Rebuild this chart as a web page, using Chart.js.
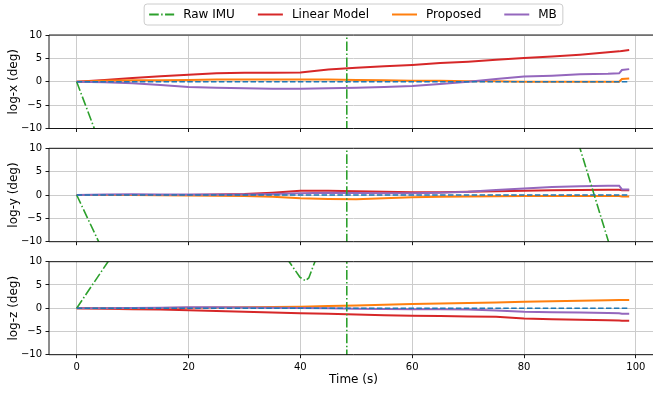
<!DOCTYPE html>
<html>
<head>
<meta charset="utf-8">
<script src="https://cdn.jsdelivr.net/npm/chart.js@4"></script>
<style>
  html, body { margin: 0; padding: 0; background: #fff; }
  #fig { position: relative; width: 653px; height: 394px; overflow: hidden; }
  #fig canvas { position: absolute; left: 0; }
</style>
</head>
<body>
<div id="fig">
  <canvas id="cx" width="670" height="140" style="top:0px"></canvas>
  <canvas id="cy" width="670" height="116" style="top:138px"></canvas>
  <canvas id="cz" width="670" height="144" style="top:250px"></canvas>
</div>
<script>
// time stamps (s) for the estimator curves
let times = [0, 5, 10, 15, 20, 25, 30, 35, 40, 45, 50, 55, 60, 65, 70, 75, 80, 85, 90, 95, 97, 97.5, 98.8];

// log-x (deg)
let linX  = [0, 0.4, 0.8, 1.2, 1.5, 1.8, 1.9, 1.9, 2.0, 2.6, 3.0, 3.3, 3.6, 4.0, 4.3, 4.7, 5.1, 5.4, 5.8, 6.3, 6.5, 6.6, 6.8];
let propX = [0, 0.2, 0.3, 0.3, 0.4, 0.5, 0.5, 0.5, 0.5, 0.5, 0.4, 0.3, 0.2, 0.2, 0.1, 0.1, 0.0, 0.0, 0.0, 0.0, 0.0, 0.6, 0.7];
let mbX   = [0, -0.1, -0.3, -0.7, -1.1, -1.3, -1.4, -1.5, -1.5, -1.4, -1.3, -1.1, -0.9, -0.5, 0.0, 0.6, 1.1, 1.3, 1.6, 1.7, 1.8, 2.5, 2.7];

// log-y (deg)
let linY  = [0, 0, 0, 0, 0, 0.1, 0.2, 0.5, 0.9, 0.9, 0.8, 0.7, 0.6, 0.6, 0.7, 0.8, 0.9, 1.0, 1.05, 1.1, 1.1, 1.0, 1.0];
let propY = [0, 0, 0, -0.05, -0.1, -0.15, -0.2, -0.4, -0.7, -0.85, -0.9, -0.7, -0.5, -0.4, -0.3, -0.25, -0.2, -0.2, -0.2, -0.2, -0.2, -0.3, -0.3];
let mbY   = [0, 0.1, 0.15, 0.1, 0.1, 0.1, 0.1, 0.2, 0.35, 0.5, 0.45, 0.4, 0.35, 0.5, 0.7, 1.05, 1.4, 1.7, 1.9, 2.0, 2.0, 1.2, 1.2];

// log-z (deg)
let linZ  = [0, -0.1, -0.2, -0.3, -0.45, -0.6, -0.75, -0.9, -1.1, -1.2, -1.35, -1.5, -1.6, -1.7, -1.8, -1.85, -2.2, -2.4, -2.5, -2.6, -2.65, -2.7, -2.7];
let propZ = [0, 0, 0, 0.05, 0.1, 0.15, 0.2, 0.25, 0.3, 0.45, 0.6, 0.75, 0.9, 1.0, 1.1, 1.2, 1.4, 1.5, 1.6, 1.7, 1.75, 1.75, 1.75];
let mbZ   = [0, 0, 0.05, 0.1, 0.2, 0.2, 0.15, 0.1, 0.05, 0.0, -0.1, -0.15, -0.2, -0.25, -0.3, -0.5, -0.75, -0.85, -0.95, -1.05, -1.1, -1.2, -1.2];

// raw IMU integration (mostly off the visible range, wraps at ~48 s)
let rawTX = [0, 3.15, 48.3, 48.3, 98.8];
let rawX  = [0, -10, -153, 207, 47];
let rawTY = [0, 3.93, 48.3, 48.3, 90.0, 95.1, 98.8];
let rawY  = [0, -10, -123, 172, 10, -10, -24];
let rawTZ = [0, 5.6, 8, 20, 30, 35, 38.0, 39.9, 40.9, 41.5, 42.6, 45, 48.3, 48.3, 98.8];
let rawZ  = [0, 10, 14, 30, 25, 15, 10, 6.7, 5.9, 6.5, 10, 16, 25, -180, -150];

let xTicks = [0, 20, 40, 60, 80, 100];
let yTicks = [-10, -5, 0, 5, 10];

let legendNames = ["Raw IMU", "Linear Model", "Proposed", "MB"];
let colors = { raw: "#2ca02c", lin: "#d62728", prop: "#ff7f0e", mb: "#9467bd", gt: "#1f77b4" };

Chart.defaults.font.family = "'DejaVu Sans', sans-serif";
Chart.defaults.color = "#000";

function pts(ts, vs) {
    return ts.map((t, i) => ({ x: t, y: vs[i] }));
}

function minusFmt(v) {
    return v < 0 ? "\u2212" + Math.abs(v) : String(v);
}

// grid only on the listed ticks
const gridColor = ctx => "#cccccc";
const tickMarkColor = ctx => "#000";

// spines: left, top, bottom (right one falls outside the figure)
const framePlugin = {
    id: "frame",
    afterDraw(chart) {
        const a = chart.chartArea, ctx = chart.ctx;
        ctx.save();
        ctx.strokeStyle = "#000";
        ctx.lineWidth = 0.9;
        ctx.beginPath();
        ctx.moveTo(a.right, a.top);
        ctx.lineTo(a.left, a.top);
        ctx.lineTo(a.left, a.bottom);
        ctx.lineTo(a.right, a.bottom);
        ctx.stroke();
        ctx.restore();
    }
};

// boxed legend above the first panel
const legendPlugin = {
    id: "topLegend",
    afterDraw(chart) {
        const ctx = chart.ctx;
        const styles = [
            { c: colors.raw, dash: [9.6, 2.4, 1.5, 2.4] },
            { c: colors.lin, dash: [] },
            { c: colors.prop, dash: [] },
            { c: colors.mb, dash: [] }
        ];
        const handle = 25, gapText = 9, gapCol = 23, cy = 14.5;
        ctx.save();
        ctx.font = "12px 'DejaVu Sans'";
        let widths = legendNames.map(n => ctx.measureText(n).width);
        let total = widths.reduce((s, w) => s + handle + gapText + w, 0) + gapCol * (legendNames.length - 1);
        let x = 353 - total / 2;
        let bx = x - 5, bw = total + 11;
        ctx.fillStyle = "rgba(255,255,255,0.8)";
        ctx.strokeStyle = "#cccccc";
        ctx.lineWidth = 1;
        ctx.beginPath();
        ctx.roundRect(bx, 4, bw, 21, 3);
        ctx.fill();
        ctx.stroke();
        legendNames.forEach((name, i) => {
            ctx.strokeStyle = styles[i].c;
            ctx.lineWidth = 2;
            ctx.setLineDash(styles[i].dash);
            ctx.beginPath();
            ctx.moveTo(x, cy);
            ctx.lineTo(x + handle, cy);
            ctx.stroke();
            ctx.setLineDash([]);
            ctx.fillStyle = "#000";
            ctx.textBaseline = "middle";
            ctx.fillText(name, x + handle + gapText, cy);
            x += handle + gapText + widths[i] + gapCol;
        });
        ctx.restore();
    }
};

function makePanel(id, label, rawT, raw, lin, prop, mb, lay) {
    const ctx = document.getElementById(id).getContext("2d");
    return new Chart(ctx, {
        type: "line",
        data: {
            datasets: [
                { label: "GT", data: pts([0, 98.8], [0, 0]), borderColor: colors.gt, borderWidth: 1.5, borderDash: [5.5, 2.4] },
                { label: "Raw IMU", data: pts(rawT, raw), borderColor: colors.raw, borderWidth: 1.6, borderDash: [9.6, 2.4, 1.5, 2.4] },
                { label: "MB", data: pts(times, mb), borderColor: colors.mb, borderWidth: 2 },
                { label: "Proposed", data: pts(times, prop), borderColor: colors.prop, borderWidth: 2 },
                { label: "Linear Model", data: pts(times, lin), borderColor: colors.lin, borderWidth: 2 }
            ]
        },
        options: {
            responsive: false,
            animation: false,
            elements: { point: { radius: 0 }, line: { tension: 0 } },
            layout: { padding: { left: 0, right: 12, top: lay.pt, bottom: lay.pb } },
            plugins: { legend: { display: false }, tooltip: { enabled: false } },
            scales: {
                x: {
                    type: "linear",
                    min: -4.95,
                    max: 103.95,
                    afterBuildTicks: s => { s.ticks = xTicks.map(v => ({ value: v })); },
                    afterFit: s => { s.height = lay.xh; },
                    border: { display: false },
                    grid: { color: gridColor, lineWidth: 1, tickColor: tickMarkColor, tickLength: 3.5, tickWidth: 0.9 },
                    ticks: { display: lay.showX, autoSkip: false, maxRotation: 0, padding: 3, font: { size: 10 } },
                    title: { display: lay.showX, text: "Time (s)", font: { size: 12 }, padding: { top: 0, bottom: 6.8 } }
                },
                y: {
                    min: -10,
                    max: 10,
                    afterBuildTicks: s => { s.ticks = yTicks.map(v => ({ value: v })); },
                    afterFit: s => { s.width = 49; },
                    border: { display: false },
                    grid: { color: gridColor, lineWidth: 1, tickColor: tickMarkColor, tickLength: 3.5, tickWidth: 0.9 },
                    ticks: { padding: 3.5, font: { size: 10 }, callback: minusFmt },
                    title: { display: true, text: label, font: { size: 12 }, padding: { top: 6.5, bottom: 0 } }
                }
            }
        },
        plugins: id === "cx" ? [framePlugin, legendPlugin] : [framePlugin]
    });
}

makePanel("cx", "log-x (deg)", rawTX, rawX, linX, propX, mbX, { pt: 35, pb: 7.5, xh: 4, showX: false });
makePanel("cy", "log-y (deg)", rawTY, rawY, linY, propY, mbY, { pt: 10.3, pb: 8.3, xh: 4, showX: false });
makePanel("cz", "log-z (deg)", rawTZ, rawZ, linZ, propZ, mbZ, { pt: 11.7, pb: 0, xh: 39.3, showX: true });
</script>
</body>
</html>
